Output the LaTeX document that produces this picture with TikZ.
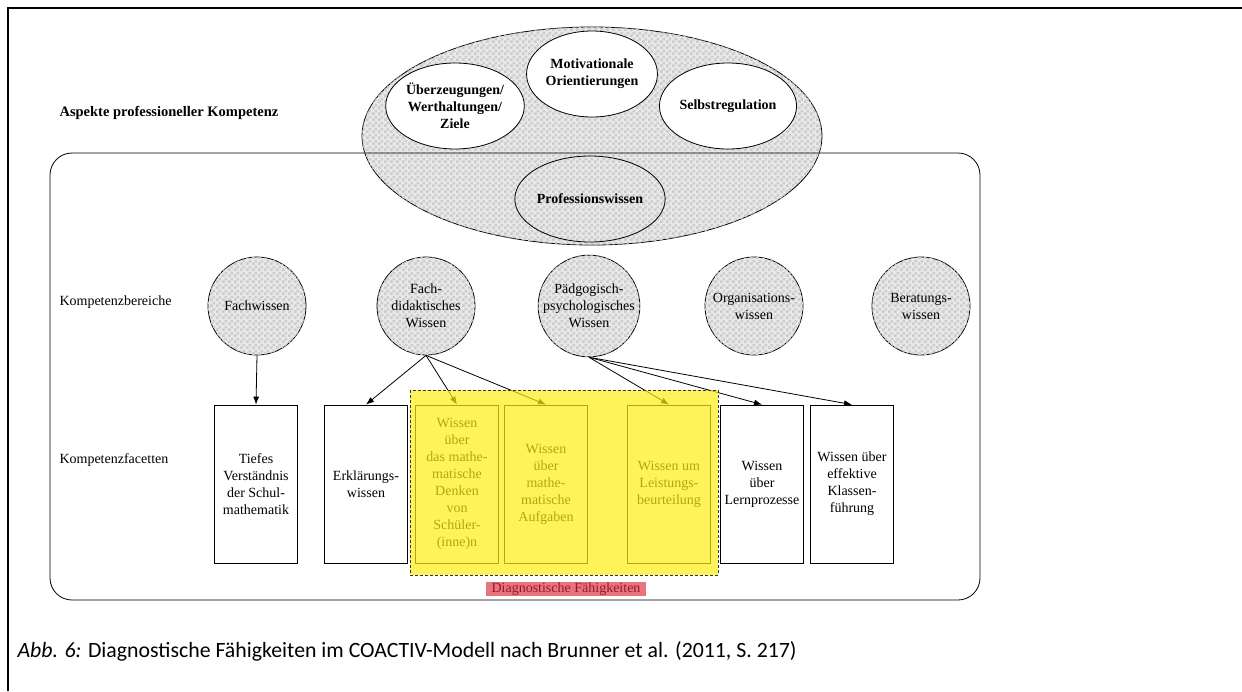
\documentclass[tikz,border=0pt]{standalone}
\usepackage{fontspec}
\setmainfont{Liberation Serif}
\newfontfamily\capfont{Carlito}
\usepackage{tikz}
\usetikzlibrary{shapes.geometric, patterns, arrows.meta}

\definecolor{diagyellow}{RGB}{255,238,22}
\definecolor{diagred}{RGB}{234,115,126}
\definecolor{diagredtext}{RGB}{150,25,40}

% coarse checker for the shaded areas
\pgfdeclarepatternformonly{rasterchecker}{\pgfqpoint{0pt}{0pt}}{\pgfqpoint{6pt}{6pt}}{\pgfqpoint{6pt}{6pt}}{%
    \pgfpathrectangle{\pgfpointorigin}{\pgfqpoint{3pt}{3pt}}%
    \pgfpathrectangle{\pgfqpoint{3pt}{3pt}}{\pgfqpoint{3pt}{3pt}}%
    \pgfusepath{fill}}

\begin{document}
\begin{tikzpicture}[x=1pt, y=-1pt,
    txt/.style={font=\fontsize{14}{17}\selectfont, align=center},
    hatched/.style={draw, line width=0.8pt, fill=gray!18,
        postaction={pattern=rasterchecker, pattern color=gray!40}},
    aspekt/.style={ellipse, draw, line width=0.8pt, fill=white, inner sep=0pt,
        minimum width=130pt, minimum height=86pt, txt,
        font=\fontsize{14}{17}\selectfont\bfseries},
    bereich/.style={hatched, circle, minimum size=98pt, inner sep=0pt, txt},
    facette/.style={draw, line width=0.8pt, fill=white, minimum width=83pt,
        minimum height=158pt, inner sep=0pt, txt},
    pfeil/.style={-{Latex[length=8pt,width=6pt]}, line width=0.8pt}]
    \useasboundingbox (0,0) rectangle (1242,691);

    % Draw the frame of the cell
    \draw[line width=2pt] (1242,8) -- (8,8) -- (8,691);

    % Aspects: big ellipse and rounded box
    \node[hatched, ellipse, minimum width=460pt, minimum height=218pt] (aspekte) at (592,136) {};
    \draw[line width=0.8pt, rounded corners=22pt] (50,153) rectangle (980,600);
    \node[aspekt] (ueberz) at (455,106) {Überzeugungen/\\Werthaltungen/\\Ziele};
    \node[aspekt] (motiv) at (592,74) {Motivationale\\Orientierungen};
    \node[aspekt] (selbst) at (728,106) {Selbstregulation};
    \node[aspekt, fill=none] (profwissen) at (590,199) {Professionswissen};

    % Add row labels
    \node[anchor=west, font=\fontsize{14.5}{17}\selectfont\bfseries] (lblaspekte) at (56,113) {Aspekte professioneller Kompetenz};
    \node[anchor=west, txt] (lblbereiche) at (56,302) {Kompetenzbereiche};
    \node[anchor=west, txt] (lblfacetten) at (56,460) {Kompetenzfacetten};

    % Kompetenzbereiche
    \node[bereich] (fach) at (257,306) {Fachwissen};
    \node[bereich] (fachdid) at (426,306) {Fach-\\didaktisches\\Wissen};
    \node[bereich] (paedpsy) at (589,306) {Pädgogisch-\\psychologisches\\Wissen};
    \node[bereich] (orga) at (754,306) {Organisations-\\wissen};
    \node[bereich] (berat) at (921,306) {Beratungs-\\wissen};

    % Kompetenzfacetten
    \node[facette] (tiefes) at (256,484) {Tiefes\\Verständnis\\der Schul-\\mathematik};
    \node[facette] (erkl) at (366,484) {Erklärungs-\\wissen};
    \node[facette] (denken) at (457,484) {Wissen\\über\\das mathe-\\matische\\Denken\\von\\Schüler-\\(inne)n};
    \node[facette] (aufgaben) at (546,484) {Wissen\\über\\mathe-\\matische\\Aufgaben};
    \node[facette] (leistung) at (669,484) {Wissen um\\Leistungs-\\beurteilung};
    \node[facette] (lernproz) at (762,484) {Wissen\\über\\Lernprozesse};
    \node[facette] (klassen) at (852,484) {Wissen über\\effektive\\Klassen-\\führung};

    % Add arrows
    \draw[pfeil] (fach.south) -- (tiefes.north);
    \draw[pfeil] (fachdid.south) -- (erkl.north);
    \draw[pfeil] (fachdid.south) -- (denken.north);
    \draw[pfeil] (fachdid.south) -- (aufgaben.north);
    \draw[pfeil] (paedpsy.south) -- (leistung.north);
    \draw[pfeil] (paedpsy.south) -- (lernproz.north);
    \draw[pfeil] (paedpsy.south) -- (klassen.north);

    % Highlight the diagnostic facets
    \fill[diagyellow, fill opacity=0.7] (410,390) rectangle (718,575);
    \draw[line width=0.9pt, dash pattern=on 3pt off 2pt, black!80] (410,390) rectangle (718,575);
    \node[fill=diagred, text=diagredtext, inner xsep=6pt, inner ysep=1pt,
        font=\fontsize{14}{17}\selectfont] (diagfaeh) at (566,589) {Diagnostische Fähigkeiten};

    % Caption
    \node[anchor=west, font=\capfont\fontsize{21.8}{26}\selectfont] (caption) at (14,651)
        {\textit{Abb. 6:} Diagnostische Fähigkeiten im COACTIV-Modell nach Brunner et al. (2011, S. 217)};
\end{tikzpicture}
\end{document}
